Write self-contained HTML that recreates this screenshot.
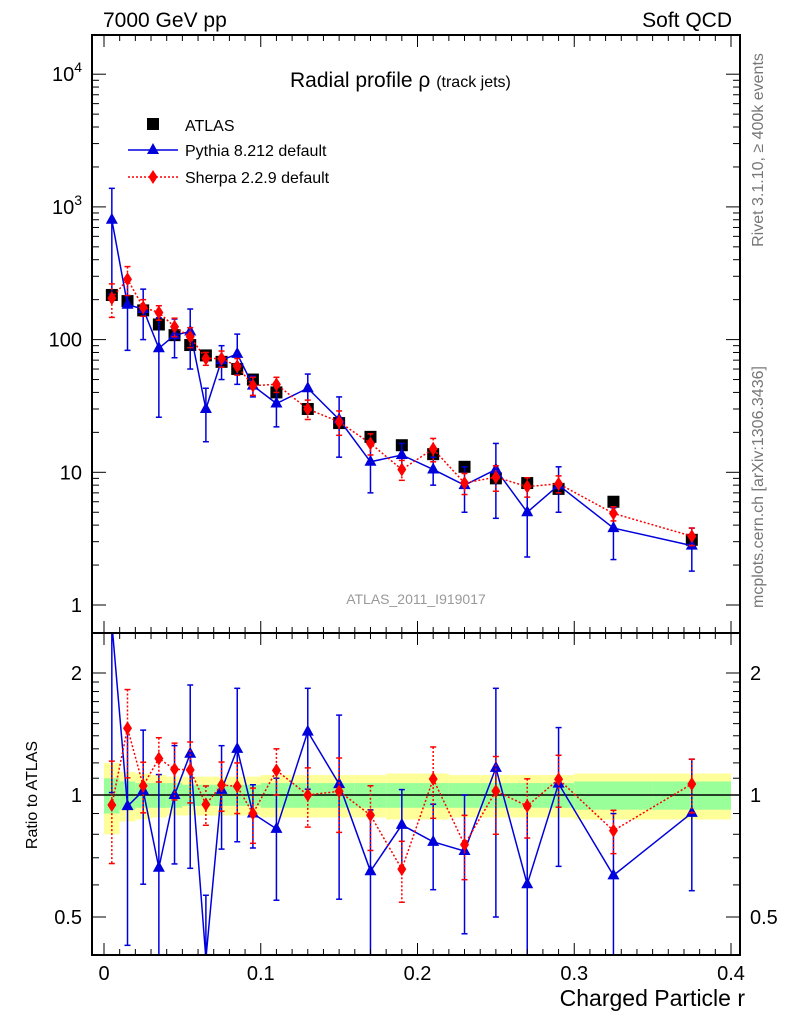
<!DOCTYPE html>
<html><head><meta charset="utf-8"><style>
html,body{margin:0;background:#fff;width:786px;height:1024px;overflow:hidden}
svg{display:block;font-family:"Liberation Sans",sans-serif}
</style></head><body>
<svg id="c" width="786" height="1024"></svg>
<script>
const rVals=[0.005,0.015,0.025,0.035,0.045,0.055,0.065,0.075,0.085,0.095,0.11,0.13,0.15,0.17,0.19,0.21,0.23,0.25,0.27,0.29,0.325,0.375];
const binLo=[0,0.01,0.02,0.03,0.04,0.05,0.06,0.07,0.08,0.09,0.1,0.12,0.14,0.16,0.18,0.2,0.22,0.24,0.26,0.28,0.3,0.35];
const binHi=[0.01,0.02,0.03,0.04,0.05,0.06,0.07,0.08,0.09,0.1,0.12,0.14,0.16,0.18,0.2,0.22,0.24,0.26,0.28,0.3,0.35,0.4];
const atlas=[217,195,166,130,108,91,76,68,60,50,40,30,23.5,18.5,16,13.7,11,9,8.3,7.5,6,3.1];
const atlasTot=[0.2,0.14,0.13,0.12,0.11,0.11,0.11,0.11,0.11,0.11,0.12,0.12,0.12,0.12,0.13,0.13,0.12,0.12,0.12,0.12,0.13,0.13];
const atlasStat=[0.1,0.08,0.07,0.07,0.07,0.06,0.06,0.06,0.06,0.06,0.07,0.07,0.07,0.07,0.07,0.07,0.07,0.07,0.07,0.07,0.08,0.08];
const pythia=[800,183,170,86,108,115,30,70,78,45,33,43,25,12,13.5,10.5,8,10.5,5,8,3.8,2.8];
const pythiaErr=[580,100,70,60,35,55,13,20,32,8,11,12,12,5,3,2.5,3,6,2.7,3,1.6,1];
const sherpa=[205,285,175,160,125,105,72,72,63,45,46,30,24,16.5,10.5,15,8.3,9.2,7.8,8.2,4.9,3.3];
const sherpaErr=[58,70,25,20,20,18,8,10,9,7,6,5,5,3,1.8,3,1.5,2,1.3,1.2,0.6,0.5];
const xTicks=[0,0.1,0.2,0.3,0.4];
const yMainTicks=[1,10,100,1000,10000];

const S=document.getElementById('c');const NS='http://www.w3.org/2000/svg';
function el(t,a,p){const e=document.createElementNS(NS,t);for(const k in a)e.setAttribute(k,a[k]);(p||S).appendChild(e);return e;}
const L=92,R=740,T=35,M=633,B=955;
const X=v=>104+v*1567.5;
const cl=(y,a,b)=>Math.max(a,Math.min(b,y));
const Y=v=>cl(605-Math.log10(v)*132.7,T-10,M+10);
const YR=v=>cl(795-Math.log2(v)*122,M-10,B+10);
el('defs',{}).innerHTML='<clipPath id="cm"><rect x="92" y="35" width="648" height="598"/></clipPath><clipPath id="cr"><rect x="92" y="633" width="648" height="322"/></clipPath>';
const gM=el('g',{'clip-path':'url(#cm)'});
const gR=el('g',{'clip-path':'url(#cr)'});
for(let i=0;i<rVals.length;i++){
  const x1=X(binLo[i]),x2=X(binHi[i]);
  const b1=el('rect',{x:x1,y:YR(1+atlasTot[i]),width:x2-x1,height:YR(1-atlasTot[i])-YR(1+atlasTot[i]),fill:'#ffff99'},gR);
  
  const b2=el('rect',{x:x1,y:YR(1+atlasStat[i]),width:x2-x1,height:YR(1-atlasStat[i])-YR(1+atlasStat[i]),fill:'#99ff99'},gR);
  
}
el('line',{x1:L,x2:R,y1:YR(1),y2:YR(1),stroke:'#000','stroke-width':1.5},gR);
function series(vals,errs,color,dash,marker,gm,gr,name){
  let pm='',pr='';
  vals.forEach((v,i)=>{const x=X(rVals[i]);pm+=(i?'L':'M')+x+' '+Y(v);pr+=(i?'L':'M')+x+' '+YR(v/atlas[i]);});
  const a={fill:'none',stroke:color,'stroke-width':1.5};if(dash)a['stroke-dasharray']=dash;
  const l1=el('path',Object.assign({d:pm},a),gm);
  const l2=el('path',Object.assign({d:pr},a),gr);
  vals.forEach((v,i)=>{
    const x=X(rVals[i]);
    [[gm,Y,v,errs[i]],[gr,YR,v/atlas[i],errs[i]/atlas[i]]].forEach(([g,f,c,e])=>{
      const lo=Math.max(c-e,1e-3);
      const ea={x1:x,x2:x,y1:f(c+e),y2:f(lo),stroke:color,'stroke-width':1.5};if(dash)ea['stroke-dasharray']=dash;
      const eb=el('line',ea,g);
      el('line',{x1:x-3,x2:x+3,y1:f(c+e),y2:f(c+e),stroke:color,'stroke-width':1.5},g);
      el('line',{x1:x-3,x2:x+3,y1:f(lo),y2:f(lo),stroke:color,'stroke-width':1.5},g);
      const y=f(c);let m;
      if(marker==='tri')m=el('path',{d:`M${x} ${y-7}L${x+6} ${y+4}L${x-6} ${y+4}Z`,fill:color},g);
      else m=el('path',{d:`M${x} ${y-7}L${x+4.5} ${y}L${x} ${y+7}L${x-4.5} ${y}Z`,fill:color},g);
      
    });
  });
}
atlas.forEach((v,i)=>{const m=el('rect',{x:X(rVals[i])-6,y:Y(v)-6,width:12,height:12,fill:'#000'},gM);});
series(pythia,pythiaErr,'#0000dd',null,'tri',gM,gR,'pythia');
series(sherpa,sherpaErr,'#ff0000','2,2','dia',gM,gR,'sherpa');
el('rect',{x:L,y:T,width:R-L,height:M-T,fill:'none',stroke:'#000','stroke-width':2});
el('rect',{x:L,y:M,width:R-L,height:B-M,fill:'none',stroke:'#000','stroke-width':2});
for(let k=0;k<=40;k++){const v=k/100,x=X(v),len=k%10===0?12:6;
  [T,M].forEach(y0=>el('line',{x1:x,x2:x,y1:y0,y2:y0+len,stroke:'#000','stroke-width':1}));
  [M,B].forEach(y0=>el('line',{x1:x,x2:x,y1:y0,y2:y0-len,stroke:'#000','stroke-width':1}));}
xTicks.forEach(v=>{const t=el('text',{x:X(v),y:980,'font-size':20,'text-anchor':'middle'});t.textContent=v===0?'0':String(v);});
for(let d=0;d<5;d++)for(let m=1;m<10;m++){const v=Math.pow(10,d)*m,y=605-Math.log10(v)*132.7;if(y<T)continue;const len=m===1?14:7;
  el('line',{x1:L,x2:L+len,y1:y,y2:y,stroke:'#000'});el('line',{x1:R,x2:R-len,y1:y,y2:y,stroke:'#000'});}
yMainTicks.forEach(v=>{const t=el('text',{x:82,y:Y(v)+7,'font-size':20,'text-anchor':'end'});
  if(v>=1000){t.innerHTML='10<tspan dy="-9" font-size="14">'+Math.log10(v)+'</tspan>';}else t.textContent=String(v);
  });
[0.5,0.6,0.7,0.8,0.9,1,1.1,1.2,1.3,1.4,1.5,1.6,1.7,1.8,1.9,2].forEach(v=>{const y=YR(v),len=(v===0.5||v===1||v===2)?14:7;
  el('line',{x1:L,x2:L+len,y1:y,y2:y,stroke:'#000'});el('line',{x1:R,x2:R-len,y1:y,y2:y,stroke:'#000'});});
[[2,'2'],[1,'1'],[0.5,'0.5']].forEach(([v,s])=>{
  const a=el('text',{x:82,y:YR(v)+7,'font-size':20,'text-anchor':'end'});a.textContent=s;
  const b=el('text',{x:750,y:YR(v)+7,'font-size':20});b.textContent=s;});
function txt(x,y,s,attrs,name){const t=el('text',Object.assign({x,y},attrs));t.textContent=s;return t;}
txt(103,27,'7000 GeV pp',{'font-size':21},'energy-label');
txt(732,27,'Soft QCD',{'font-size':21,'text-anchor':'end'},'process-label');
const ti=txt(290,87,'Radial profile ',{'font-size':21},'plot-title');ti.innerHTML='Radial profile ρ <tspan font-size="16">(track jets)</tspan>';
txt(416,604,'ATLAS_2011_I919017',{'font-size':14,fill:'#999','text-anchor':'middle'},'analysis-id');
txt(745,1006,'Charged Particle r',{'font-size':23,'text-anchor':'end'},'x-axis-title');
txt(0,0,'Ratio to ATLAS',{'font-size':16,'text-anchor':'middle',transform:'translate(37,795) rotate(-90)'},'y-axis-title');
txt(0,0,'Rivet 3.1.10, ≥ 400k events',{'font-size':16,fill:'#777','text-anchor':'middle',transform:'translate(763,150) rotate(-90)'},'rivet-label');
txt(0,0,'mcplots.cern.ch [arXiv:1306.3436]',{'font-size':16,fill:'#777','text-anchor':'middle',transform:'translate(763,487) rotate(-90)'},'mcplots-label');
const lg=el('g',{});
el('rect',{x:147,y:118,width:12,height:12,fill:'#000'},lg);
txt(185,131,'ATLAS',{'font-size':16},'legend-atlas');
el('line',{x1:128,x2:178,y1:150,y2:150,stroke:'#0000dd','stroke-width':1.5},lg);
el('path',{d:'M153 143L159 154L147 154Z',fill:'#0000dd'},lg);
txt(185,156,'Pythia 8.212 default',{'font-size':16},'legend-pythia');
el('line',{x1:128,x2:178,y1:177,y2:177,stroke:'#f00','stroke-width':1.5,'stroke-dasharray':'2,2'},lg);
el('path',{d:'M153 170L157.5 177L153 184L148.5 177Z',fill:'#f00'},lg);
txt(185,183,'Sherpa 2.2.9 default',{'font-size':16},'legend-sherpa');
</script>
</body></html>
